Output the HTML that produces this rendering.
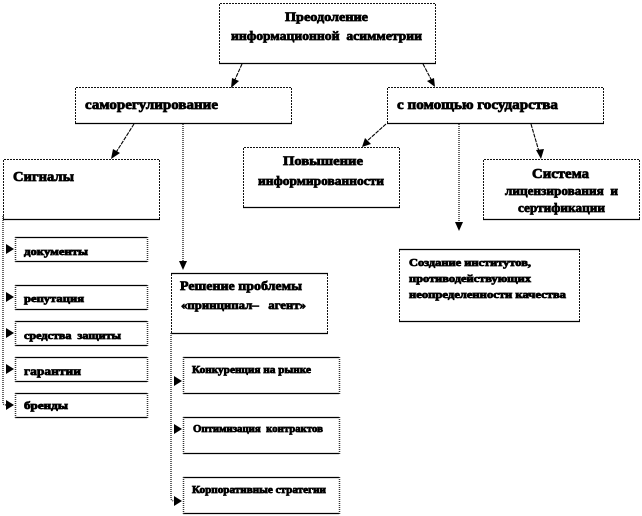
<!DOCTYPE html>
<html><head><meta charset="utf-8">
<style>
html,body{margin:0;padding:0;background:#fff}
svg{display:block}
text{font-family:"Liberation Serif","Noto Serif CJK SC",serif;font-weight:bold;fill:#000;stroke:#000;stroke-width:.75px;white-space:pre}
.t{stroke:#111;stroke-width:1;stroke-dasharray:2 1;fill:none}
.s{stroke:#000;stroke-width:1.3;fill:none}
.d{stroke:#333;stroke-width:1.5;stroke-dasharray:1 1;fill:none}
.l{stroke:#000;stroke-width:1.1;stroke-dasharray:4 1;fill:none}
</style></head><body>
<svg width="642" height="516" viewBox="0 0 642 516" xmlns="http://www.w3.org/2000/svg">
<defs>
<g id="r"><path d="M0 0l-8-5v10z" fill="#000"/></g>
</defs>
<!-- boxes -->
<path class="t" d="M219.500 63V3.500H435.500V63"/><path class="s" d="M219 63.500H436"/>
<path class="t" d="M75.500 123V87.500H291.500V123"/><path class="s" d="M75 123.500H292"/>
<path class="t" d="M387.500 123V87.500H603.500V123"/><path class="s" d="M387 123.500H604"/>
<path class="t" d="M3.500 219V159.500H159.500V219"/><path class="s" d="M3 219.500H160"/>
<path class="t" d="M243.500 207V147.500H399.500V207"/><path class="s" d="M243 207.500H400"/>
<path class="t" d="M483.500 219V159.500H639.500V219"/><path class="s" d="M483 219.500H640"/>
<path class="t" d="M399.500 321V249.500H579.500V321"/><path class="s" d="M399 249.500H580M399 321.500H580"/>
<path class="t" d="M171.500 333V273.500H327.500V333"/><path class="s" d="M171 273.500H328M171 333.500H328"/>
<g class="s">
<path d="M15 237.500H147M15 261.500H147"/><path d="M15 285.500H147M15 309.500H147"/><path d="M15 321.500H147M15 345.500H147"/><path d="M15 357.500H147M15 381.500H147"/><path d="M15 393.500H147M15 417.500H147"/>
<path d="M183 357.500H339M183 393.500H339"/><path d="M183 417.500H339M183 453.500H339"/><path d="M183 477.500H339M183 513.500H339"/>
</g>
<g class="d">
<path d="M15.500 237V262M147.500 237V262M15.500 285V310M147.500 285V310M15.500 321V346M147.500 321V346M15.500 357V382M147.500 357V382M15.500 393V418M147.500 393V418"/>
<path d="M183.500 357V394M339.500 357V394M183.500 417V454M339.500 417V454M183.500 477V514M339.500 477V514"/>
<path d="M183 124V262"/><path d="M459 124V222"/>
<path d="M3 216V403Q3 405 7 405"/><path d="M171 333V498Q171 501 175 501"/>
</g>
<!-- diagonal connectors -->
<g class="l">
<path d="M242 64L233 84"/><path d="M134 124L115 154"/><path d="M423 64L433 83"/><path d="M386 124L366 142"/><path d="M531 124L540 155"/>
</g>
<path d="M231 88l1-10 7 3z"/><path d="M111 159l2-10 7 4z"/><path d="M435 87l-8-6 7-3z"/><path d="M362 147l3-9 6 6z"/><path d="M541 159l-5-9 8-1z"/>
<path d="M455 222h8l-4 9z"/><path d="M179 261h8l-4 9z"/>
<use href="#r" x="14" y="249"/><use href="#r" x="14" y="297"/><use href="#r" x="14" y="333"/><use href="#r" x="14" y="369"/><use href="#r" x="14" y="405"/>
<use href="#r" x="182" y="381"/><use href="#r" x="182" y="429"/><use href="#r" x="182" y="501"/>
<!-- text -->
<text x="285" y="21" font-size="13" textLength="83" lengthAdjust="spacingAndGlyphs">Преодоление</text>
<text x="231" y="40" font-size="13" textLength="191" lengthAdjust="spacingAndGlyphs">информационной  асимметрии</text>
<text x="85" y="109" font-size="14" textLength="133" lengthAdjust="spacingAndGlyphs">саморегулирование</text>
<text x="397" y="109" font-size="14" textLength="161" lengthAdjust="spacingAndGlyphs">с помощью государства</text>
<text x="13" y="181" font-size="14" textLength="61" lengthAdjust="spacingAndGlyphs">Сигналы</text>
<text x="283" y="165" font-size="13" textLength="80" lengthAdjust="spacingAndGlyphs">Повышение</text>
<text x="258" y="185" font-size="13" textLength="126" lengthAdjust="spacingAndGlyphs">информированности</text>
<text x="532" y="178" font-size="14" textLength="57" lengthAdjust="spacingAndGlyphs">Система</text>
<text x="505" y="195" font-size="13" textLength="113" lengthAdjust="spacingAndGlyphs">лицензирования  и</text>
<text x="518" y="212" font-size="13" textLength="87" lengthAdjust="spacingAndGlyphs">сертификации</text>
<text x="24" y="255" font-size="10" textLength="64" lengthAdjust="spacingAndGlyphs">документы</text>
<text x="24" y="302" font-size="10" textLength="60" lengthAdjust="spacingAndGlyphs">репутация</text>
<text x="24" y="339" font-size="10" textLength="97" lengthAdjust="spacingAndGlyphs">средства  защиты</text>
<text x="24" y="375" font-size="12" textLength="57" lengthAdjust="spacingAndGlyphs">гарантии</text>
<text x="24" y="409" font-size="10" textLength="44" lengthAdjust="spacingAndGlyphs">бренды</text>
<text x="180" y="290" font-size="13" textLength="122" lengthAdjust="spacingAndGlyphs">Решение проблемы</text>
<text x="181" y="309" font-size="12" textLength="125" lengthAdjust="spacingAndGlyphs">«принципал–   агент»</text>
<text x="192" y="373" font-size="10.500" textLength="119" lengthAdjust="spacingAndGlyphs">Конкуренция на рынке</text>
<text x="193" y="432" font-size="10.500" textLength="130" lengthAdjust="spacingAndGlyphs">Оптимизация  контрактов</text>
<text x="192" y="493" font-size="10.500" textLength="134" lengthAdjust="spacingAndGlyphs">Корпоративные стратегии</text>
<text x="409" y="266" font-size="10" textLength="122" lengthAdjust="spacingAndGlyphs">Создание институтов,</text>
<text x="409" y="282" font-size="10" textLength="122" lengthAdjust="spacingAndGlyphs">противодействующих</text>
<text x="409" y="298" font-size="10" textLength="157" lengthAdjust="spacingAndGlyphs">неопределенности качества</text>
</svg>
</body></html>
